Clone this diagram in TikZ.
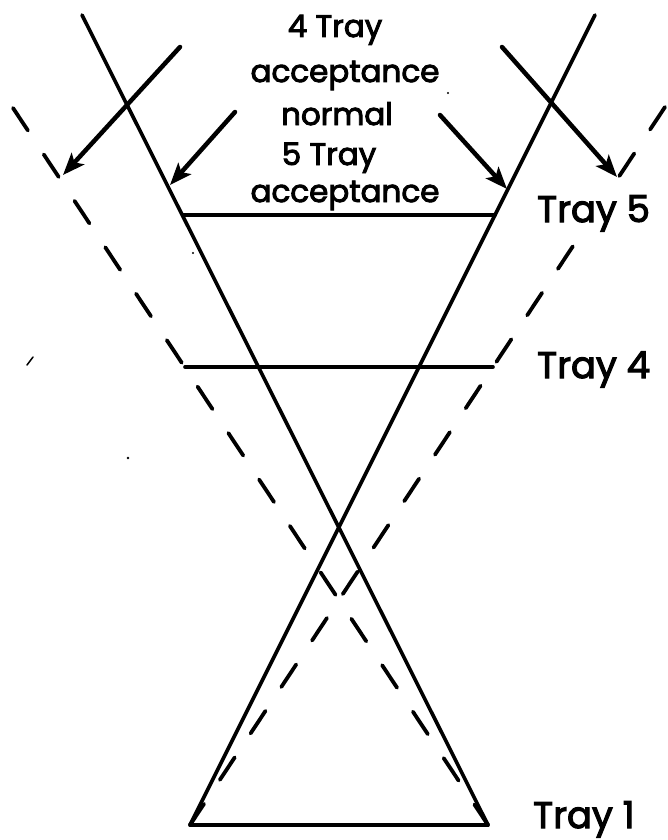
\documentclass[tikz,border=0pt]{standalone}
\usepackage{fontspec}
\setmainfont{Poppins}
\newfontfamily\lblfont[FakeBold=3]{Poppins}
\usetikzlibrary{arrows.meta}
\begin{document}
\begin{tikzpicture}[x=1pt,y=-1pt,
  solidln/.style={line width=3.6pt, line cap=round},
  dashln/.style={line width=3.8pt, line cap=round, dash pattern=on 27pt off 28.7pt},
  arr/.style={line width=4.5pt, line cap=round, -{Stealth[length=22pt,width=17pt,inset=5pt]}},
  lbl/.style={inner sep=0pt, font=\fontsize{31}{31}\lblfont, anchor=base},
  tray/.style={inner sep=0pt, font=\fontsize{37}{37}\lblfont, anchor=base west}]
\useasboundingbox (0,0) rectangle (667,840);
% tray 1 corners
\coordinate (L1) at (190,825);
\coordinate (R1) at (488,825);
% top ends of acceptance lines
\coordinate (ST1) at (82,15);
\coordinate (ST2) at (595,15);
\coordinate (DT1) at (13,108);
\coordinate (DT2) at (665,107);
% tray 5 and tray 4 ends
\coordinate (T5a) at (183,215);
\coordinate (T5b) at (495,215);
\coordinate (T4a) at (185,367);
\coordinate (T4b) at (493,367);
% arrows
\coordinate (A0) at (180,47);  \coordinate (A1) at (63,175);
\coordinate (B0) at (235,112); \coordinate (B1) at (170,185);
\coordinate (C0) at (440,115); \coordinate (C1) at (507,189);
\coordinate (D0) at (502,47);  \coordinate (D1) at (617,177);

% solid (5 tray) acceptance
\draw[solidln] (ST1) -- (R1);
\draw[solidln] (ST2) -- (L1);
% dashed (4 tray) acceptance
\draw[dashln] (DT1) -- (R1);
\draw[dashln] (DT2) -- (L1);
% trays
\draw[solidln] (L1) -- (R1);
\draw[solidln] (T5a) -- (T5b);
\draw[solidln] (T4a) -- (T4b);

% labels
\node[lbl] (l1) at (335,37) {4 Tray};
\node[lbl] (l2) at (345,82) {acceptance};
\node[lbl] (l3) at (337,125) {normal};
\node[lbl] (l4) at (329,165) {5 Tray};
\node[lbl] (l5) at (345,202) {acceptance};
\node[tray, fill=white, inner sep=2pt] (t5) at (535,222) {Tray 5};
\node[tray] (t4) at (537,378) {Tray 4};
\node[tray] (t1) at (533,828) {Tray 1};

\draw[arr] (A0) -- (A1);
\draw[arr] (B0) -- (B1);
\draw[arr] (C0) -- (C1);
\draw[arr] (D0) -- (D1);

% specks of the original
\draw[line width=1.5pt, line cap=round] (27,365) -- (33,357);
\fill (128,458) circle (1.3pt);
\fill (193,253) circle (1.2pt);
\fill (448,93) circle (1.2pt);
\end{tikzpicture}
\end{document}
